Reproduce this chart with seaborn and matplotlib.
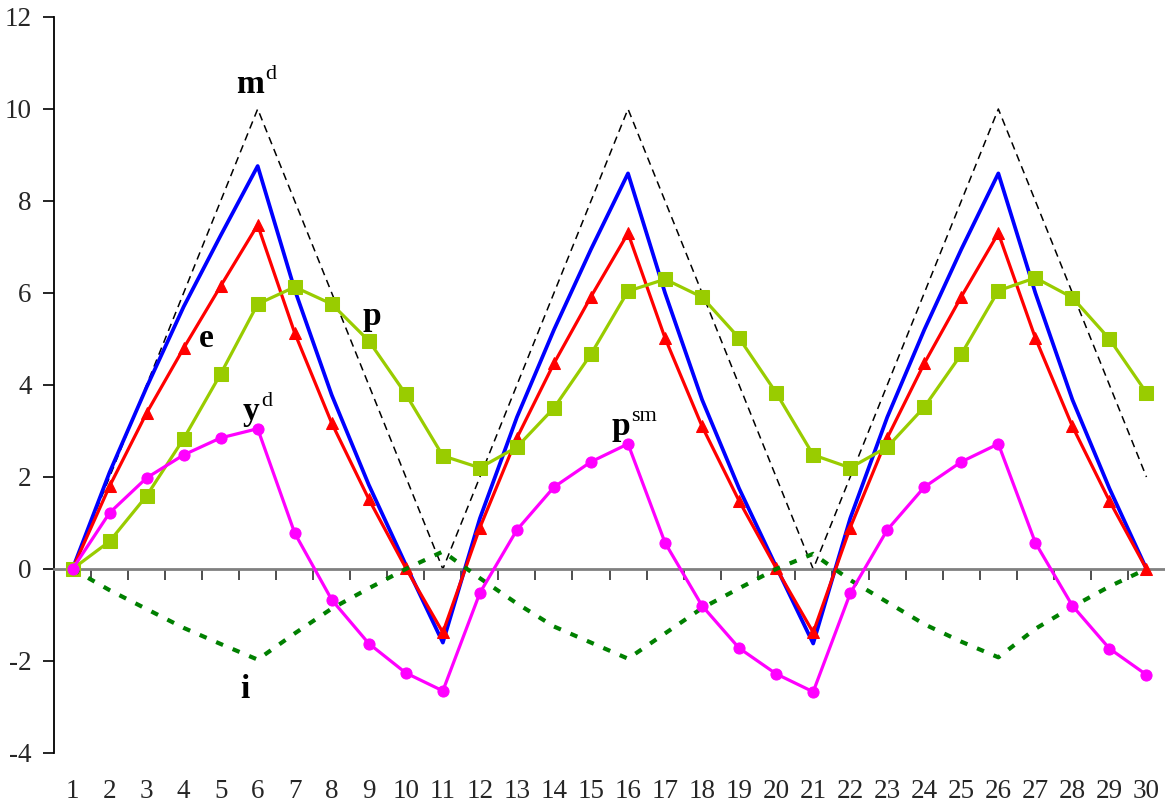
import matplotlib
matplotlib.use('Agg')
import matplotlib.pyplot as plt
import numpy as np
import pandas as pd
import seaborn as sns

periods = list(range(1, 31))
md = [0, 2, 4, 6, 8, 10, 8, 6, 4, 2, 0, 2, 4, 6, 8, 10, 8, 6, 4, 2,
      0, 2, 4, 6, 8, 10, 8, 6, 4, 2]
m_blue = [0, 2.1, 3.95, 5.7, 7.25, 8.76, 6.07, 3.78, 1.83, 0.09, -1.6,
          1.1, 3.3, 5.2, 6.95, 8.6, 6.0, 3.68, 1.75, 0.05, -1.62,
          1.1, 3.3, 5.2, 6.95, 8.6, 6.0, 3.68, 1.75, 0.0]
e = [0, 1.8, 3.39, 4.8, 6.15, 7.48, 5.13, 3.17, 1.52, 0.02, -1.38,
     0.9, 2.85, 4.47, 5.92, 7.3, 5.02, 3.1, 1.48, 0.02, -1.38,
     0.9, 2.85, 4.47, 5.92, 7.3, 5.02, 3.1, 1.48, 0.0]
p = [0, 0.6, 1.59, 2.83, 4.24, 5.76, 6.13, 5.76, 4.96, 3.8, 2.46,
     2.2, 2.65, 3.5, 4.67, 6.04, 6.3, 5.91, 5.02, 3.83, 2.48,
     2.2, 2.65, 3.52, 4.67, 6.05, 6.33, 5.9, 5.0, 3.83]
yd = [0, 1.22, 1.98, 2.48, 2.85, 3.05, 0.78, -0.67, -1.62, -2.26, -2.65,
      -0.52, 0.85, 1.78, 2.33, 2.72, 0.57, -0.8, -1.72, -2.28, -2.67,
      -0.53, 0.85, 1.78, 2.33, 2.72, 0.57, -0.8, -1.73, -2.3]
i_line = [0, -0.46, -0.87, -1.28, -1.63, -1.97, -1.4, -0.86, -0.42, 0.0, 0.38,
          -0.2, -0.75, -1.25, -1.6, -1.95, -1.4, -0.85, -0.42, 0.0, 0.33,
          -0.24, -0.72, -1.2, -1.58, -1.92, -1.3, -0.82, -0.38, 0.0]

df = pd.DataFrame({'t': periods, 'md': md, 'm': m_blue, 'e': e,
                   'p': p, 'yd': yd, 'i': i_line})

sns.set_style('ticks')
plt.rcParams['font.family'] = ['Liberation Serif', 'DejaVu Serif']
plt.rcParams['axes.unicode_minus'] = False

fig = plt.figure(figsize=(11.65, 8.05), dpi=100)
ax = fig.add_axes([54 / 1165, 1 - 753 / 805, (1165 - 54) / 1165, (753 - 17) / 805])

sns.lineplot(data=df, x='t', y='md', ax=ax, color='black', lw=1.1,
             linestyle=(0, (5, 3.4)), zorder=2)
sns.lineplot(data=df, x='t', y='m', ax=ax, color='#0000FF', lw=2.7, zorder=3)
sns.lineplot(data=df, x='t', y='e', ax=ax, color='#FF0000', lw=2.3,
             marker='^', markersize=9, markeredgecolor='#FF0000', zorder=4)
sns.lineplot(data=df, x='t', y='p', ax=ax, color='#99CC00', lw=2.3,
             marker='s', markersize=10, markeredgecolor='#99CC00', zorder=5)
sns.lineplot(data=df, x='t', y='i', ax=ax, color='#008000', lw=3.0,
             linestyle=(0, (1.8, 2.5)), solid_capstyle='butt', zorder=5)
sns.lineplot(data=df, x='t', y='yd', ax=ax, color='#FF00FF', lw=2.3,
             marker='o', markersize=8, markeredgecolor='#FF00FF', zorder=6)

ax.set_xlim(0.5, 30.5)
ax.set_ylim(-4, 12)
ax.set_xlabel('')
ax.set_ylabel('')

ax.set_yticks(range(-4, 13, 2))
ax.tick_params(axis='y', left=True, direction='out', length=8, width=1.2,
               pad=8, labelsize=19.5, color='black')

ax.spines['top'].set_visible(False)
ax.spines['right'].set_visible(False)
ax.spines['left'].set_linewidth(1.3)
ax.spines['left'].set_color('black')
ax.spines['bottom'].set_position(('data', 0))
ax.spines['bottom'].set_color('#808080')
ax.spines['bottom'].set_linewidth(2)

ax.set_xticks(periods)
ax.set_xticks(np.arange(1.5, 30, 1), minor=True)
ax.tick_params(axis='x', which='major', bottom=True, length=0, pad=151,
               labelsize=19.5)
ax.tick_params(axis='x', which='minor', bottom=True, direction='out',
               length=8, width=1.2, color='#303030')

# curve labels: bold letter plus a raised plain superscript
labels = [('m', 'd', 5.8, 10.35), ('e', '', 4.61, 4.83), ('p', '', 9.07, 5.3),
          ('y', 'd', 5.82, 3.24), ('p', 'sm', 15.8, 2.91), ('i', '', 5.65, -2.8)]
for base, sup, lx, ly in labels:
    t = ax.text(lx, ly, base, fontsize=24, fontweight='bold', ha='center',
                va='baseline', color='black')
    if sup:
        ax.annotate(sup, xy=(1.0, 1.0), xycoords=t, xytext=(1, -11),
                    textcoords='offset points', fontsize=16, ha='left',
                    va='bottom', color='black')

fig.savefig('out.png', dpi=100)
